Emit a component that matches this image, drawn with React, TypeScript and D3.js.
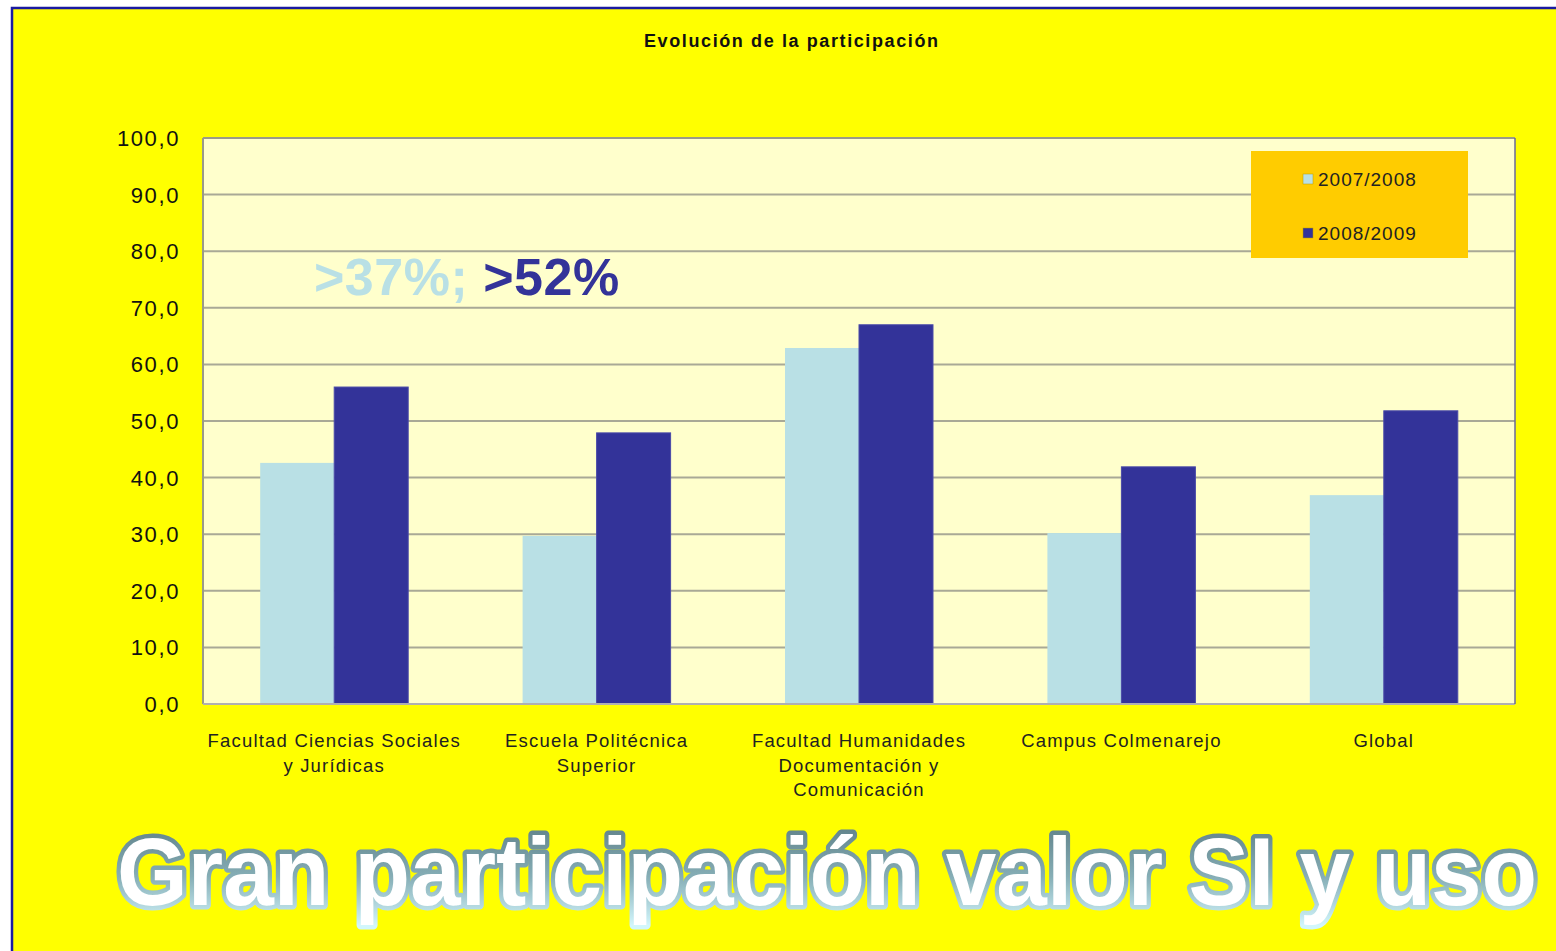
import React, { useLayoutEffect, useRef, useState } from 'react';
import * as d3 from 'd3';

const categories = [
  ['Facultad Ciencias Sociales', 'y Jurídicas'],
  ['Escuela Politécnica', 'Superior'],
  ['Facultad Humanidades', 'Documentación y', 'Comunicación'],
  ['Campus Colmenarejo'],
  ['Global'],
];
const seriesNames = ['2007/2008', '2008/2009'];
const values0708 = [42.6, 29.7, 62.9, 30.2, 36.9];
const values0809 = [56.0, 47.9, 67.0, 41.9, 51.8];
const yTicks = [0, 10, 20, 30, 40, 50, 60, 70, 80, 90, 100];

const COLORS = ['#b9e0e5', '#333399'];
const FONT = '"Liberation Sans", Arial, sans-serif';

const W = 1556;
const H = 951;
const plot = { left: 203, right: 1515, top: 138, bottom: 704 };

export default function App() {
  const bigRef = useRef<SVGTextElement>(null);
  const [bigScale, setBigScale] = useState(0.86);

  useLayoutEffect(() => {
    if (bigRef.current) {
      const natural = bigRef.current.getComputedTextLength();
      if (natural > 0) setBigScale(1420 / natural);
    }
  }, []);

  const x0 = d3.scaleBand<number>()
    .domain(categories.map((_, i) => i))
    .range([plot.left, plot.right]);
  const step = x0.step();
  const gap = (step - 148) / 2;
  const x1 = d3.scaleBand<number>()
    .domain([0, 1])
    .range([gap, step - gap]);
  const y = d3.scaleLinear().domain([0, 100]).range([plot.bottom, plot.top]);

  const series = [values0708, values0809];
  const fmt = (v: number) => d3.format('.1f')(v).replace('.', ',');

  return (
    <div style={{ position: 'fixed', left: 0, top: 0 }}>
      <svg width={W} height={H} style={{ display: 'block', fontFamily: FONT }}>
        <defs>
          <linearGradient id="bigStroke" x1="0" y1="0" x2="0" y2="1">
            <stop offset="0" stopColor="#5b7c84" />
            <stop offset="0.55" stopColor="#86aeb6" />
            <stop offset="1" stopColor="#d2f6fc" />
          </linearGradient>
        </defs>
        <rect x={0} y={0} width={W} height={H} fill="#ffffff" />
        <rect x={12} y={8} width={W + 20} height={H + 20} fill="#ffff00" stroke="#1a1aa0" strokeWidth={2.5} />

        <text x={644} y={47} fontSize={18} fontWeight="bold" fill="#111"
          textLength={294} lengthAdjust="spacing">
          Evolución de la participación
        </text>

        <rect x={plot.left} y={plot.top} width={plot.right - plot.left} height={plot.bottom - plot.top}
          fill="#ffffcc" />

        {yTicks.map(t => (
          <g key={'t' + t}>
            {t > 0 && t < 100 && (
              <line x1={plot.left} x2={plot.right} y1={y(t)} y2={y(t)} stroke="#a9a996" strokeWidth={2} />
            )}
            <text x={180} y={y(t)} dy="0.36em" textAnchor="end" fontSize={22} letterSpacing={1.6} fill="#111">
              {fmt(t)}
            </text>
          </g>
        ))}

        {categories.map((_, i) => (
          <g key={'g' + i} transform={`translate(${x0(i)},0)`}>
            {series.map((vals, s) => (
              <rect
                key={'b' + s}
                x={x1(s)}
                y={y(vals[i])}
                width={x1.bandwidth()}
                height={y(0) - y(vals[i])}
                fill={COLORS[s]}
                stroke={s === 1 ? '#4a4aa8' : 'none'}
                strokeWidth={1}
              />
            ))}
          </g>
        ))}

        <line x1={plot.left} x2={plot.right} y1={plot.top} y2={plot.top} stroke="#9a9a8a" strokeWidth={2} />
        <line x1={plot.left} x2={plot.left} y1={plot.top} y2={plot.bottom} stroke="#9a9a8a" strokeWidth={2} />
        <line x1={plot.left} x2={plot.right} y1={plot.bottom} y2={plot.bottom} stroke="#b0b0b0" strokeWidth={2} />
        <line x1={plot.right} x2={plot.right} y1={plot.top} y2={plot.bottom} stroke="#6a6a9a" strokeWidth={1.5} />

        {categories.map((lines, i) => (
          <text key={'l' + i} x={(x0(i) as number) + step / 2} y={747} textAnchor="middle" fontSize={18.5}
            letterSpacing={1.2} fill="#222">
            {lines.map((ln, k) => (
              <tspan key={k} x={(x0(i) as number) + step / 2} dy={k === 0 ? 0 : 24.5}>{ln}</tspan>
            ))}
          </text>
        ))}

        <text x={314} y={295} fontSize={52} fontWeight="bold" letterSpacing={0.5}>
          <tspan fill={COLORS[0]}>&gt;37%; </tspan>
          <tspan fill={COLORS[1]}>&gt;52%</tspan>
        </text>

        <rect x={1251} y={151} width={217} height={107} fill="#ffcc00" />
        {seriesNames.map((n, s) => (
          <g key={'lg' + s} transform={`translate(1303,${179 + s * 54})`}>
            <rect x={0} y={-5} width={10} height={10} fill={COLORS[s]} stroke="#b89a00" strokeWidth={0.5} />
            <text x={15} y={0} dy="0.36em" fontSize={19} letterSpacing={1} fill="#222">{n}</text>
          </g>
        ))}

        <g transform={`translate(117,905) scale(${bigScale},1)`}>
          <text ref={bigRef} x={0} y={0} fontSize={96} fontWeight="bold"
            fill="#ffffff" stroke="url(#bigStroke)" strokeWidth={9} strokeLinejoin="round" paintOrder="stroke">
            Gran participación valor SI y uso
          </text>
        </g>
      </svg>
    </div>
  );
}
